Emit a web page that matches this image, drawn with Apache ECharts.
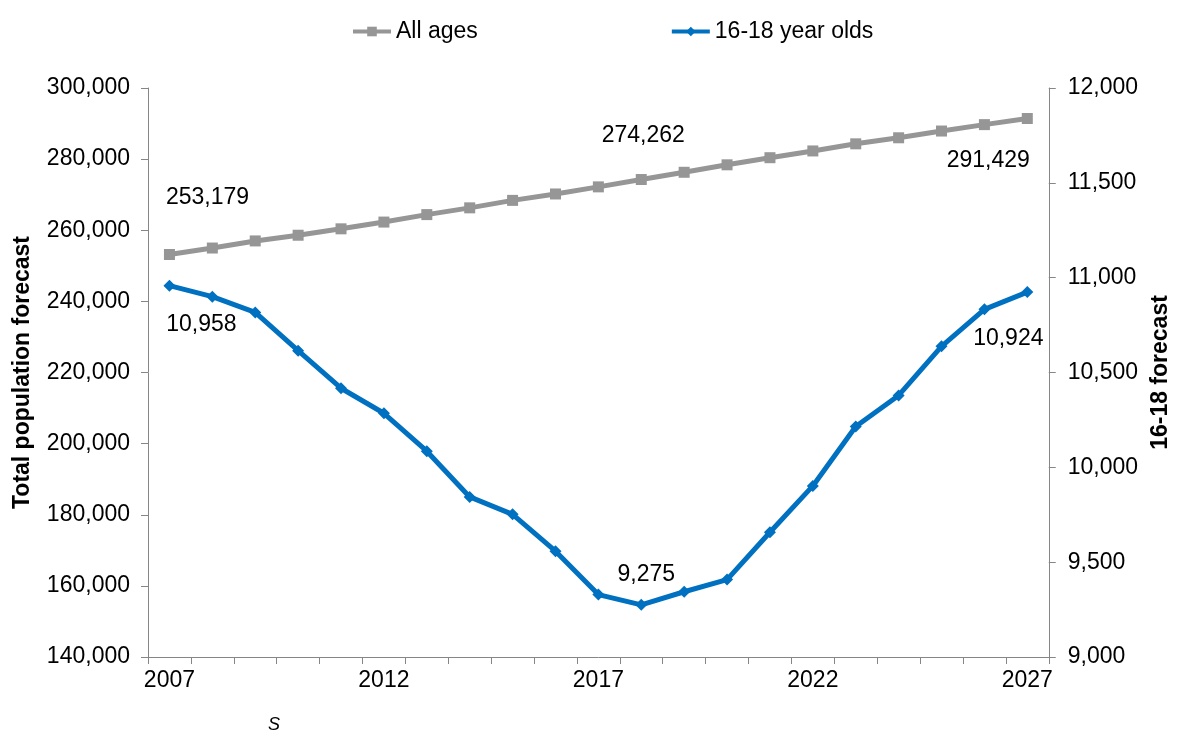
<!DOCTYPE html>
<html>
<head>
<meta charset="utf-8">
<script src="https://cdn.jsdelivr.net/npm/echarts@6/dist/echarts.min.js"></script>
<style>
  html, body { margin: 0; padding: 0; background: #fff; }
  #chart { width: 1180px; height: 738px; }
</style>
</head>
<body>
<div id="chart"></div>
<script>
// years on the x axis
const years = ["2007", "2008", "2009", "2010", "2011", "2012", "2013", "2014", "2015", "2016",
  "2017", "2018", "2019", "2020", "2021", "2022", "2023", "2024", "2025", "2026", "2027"];

// total population forecast (left axis)
const allAges = [253179, 255000, 257000, 258600, 260400, 262300, 264400, 266300, 268400, 270200,
  272200, 274262, 276300, 278400, 280400, 282300, 284300, 286000, 287900, 289700, 291429];

// 16-18 year olds forecast (right axis)
const youth = [10958, 10900, 10817, 10615, 10417, 10285, 10085, 9844, 9752, 9558,
  9329, 9275, 9344, 9408, 9658, 9902, 10215, 10379, 10638, 10833, 10924];

// which points carry a value label, and where it sits relative to the marker
const allAgesLabelOffsets = { 0: [38, -57], 11: [2, -44], 20: [-39, 42] };
const youthLabelOffsets = { 0: [32, 39], 11: [5, -30], 20: [-19, 47] };

const fmt = v => Number(v).toLocaleString("en-US");
const font = "'Liberation Sans', Arial, sans-serif";
const fs = 23;

function withLabels(values, offsets) {
  return values.map((v, i) => {
    if (!offsets[i]) return v;
    return {
      value: v,
      label: {
        show: true,
        position: "inside",
        offset: offsets[i],
        formatter: p => fmt(p.value),
        color: "#000",
        fontSize: fs,
        fontFamily: font
      }
    };
  });
}

const axisLineStyle = { show: true, lineStyle: { color: "#868686", width: 1 } };

const myChart = echarts.init(document.getElementById("chart"));
const option = {
  animation: false,
  textStyle: { fontFamily: font },
  legend: {
    left: 346,
    top: 15,
    itemWidth: 38,
    itemHeight: 12,
    itemGap: 192,
    lineStyle: { width: 4 },
    textStyle: { fontSize: fs, color: "#000", fontFamily: font },
    data: ["All ages", "16-18 year olds"]
  },
  grid: { left: 148, right: 128, top: 88, bottom: 81 },
  xAxis: {
    type: "category",
    data: years,
    boundaryGap: true,
    axisLine: axisLineStyle,
    axisTick: { show: true, interval: 0, length: 7, lineStyle: { color: "#868686" } },
    axisLabel: { interval: 4, margin: 12, fontSize: fs, color: "#000", fontFamily: font },
    splitLine: { show: false }
  },
  yAxis: [
    {
      type: "value",
      min: 140000,
      max: 300000,
      interval: 20000,
      name: "Total population forecast",
      nameLocation: "middle",
      nameRotate: 90,
      nameGap: 114,
      nameTextStyle: { fontSize: fs, fontWeight: "bold", color: "#000", fontFamily: font },
      axisLine: axisLineStyle,
      axisTick: { show: true, length: 7, lineStyle: { color: "#868686" } },
      axisLabel: { margin: 18, fontSize: fs, color: "#000", fontFamily: font, formatter: fmt },
      splitLine: { show: false }
    },
    {
      type: "value",
      min: 9000,
      max: 12000,
      interval: 500,
      position: "right",
      name: "16-18 forecast",
      nameLocation: "middle",
      nameRotate: 90,
      nameGap: 99,
      nameTextStyle: { fontSize: fs, fontWeight: "bold", color: "#000", fontFamily: font },
      axisLine: axisLineStyle,
      axisTick: { show: true, length: 7, lineStyle: { color: "#868686" } },
      axisLabel: { margin: 19, fontSize: fs, color: "#000", fontFamily: font, formatter: fmt },
      splitLine: { show: false }
    }
  ],
  series: [
    {
      name: "All ages",
      type: "line",
      yAxisIndex: 0,
      data: withLabels(allAges, allAgesLabelOffsets),
      symbol: "rect",
      symbolSize: 11,
      itemStyle: { color: "#969696" },
      lineStyle: { color: "#969696", width: 5 }
    },
    {
      name: "16-18 year olds",
      type: "line",
      yAxisIndex: 1,
      data: withLabels(youth, youthLabelOffsets),
      symbol: "diamond",
      symbolSize: 12,
      itemStyle: { color: "#0070C0" },
      lineStyle: { color: "#0070C0", width: 5 }
    }
  ],
  graphic: [
    {
      type: "text",
      left: 268,
      top: 716,
      style: { text: "S", fontSize: 18, fontStyle: "italic", fill: "#000", fontFamily: font }
    }
  ]
};

myChart.setOption(option);
</script>
</body>
</html>
